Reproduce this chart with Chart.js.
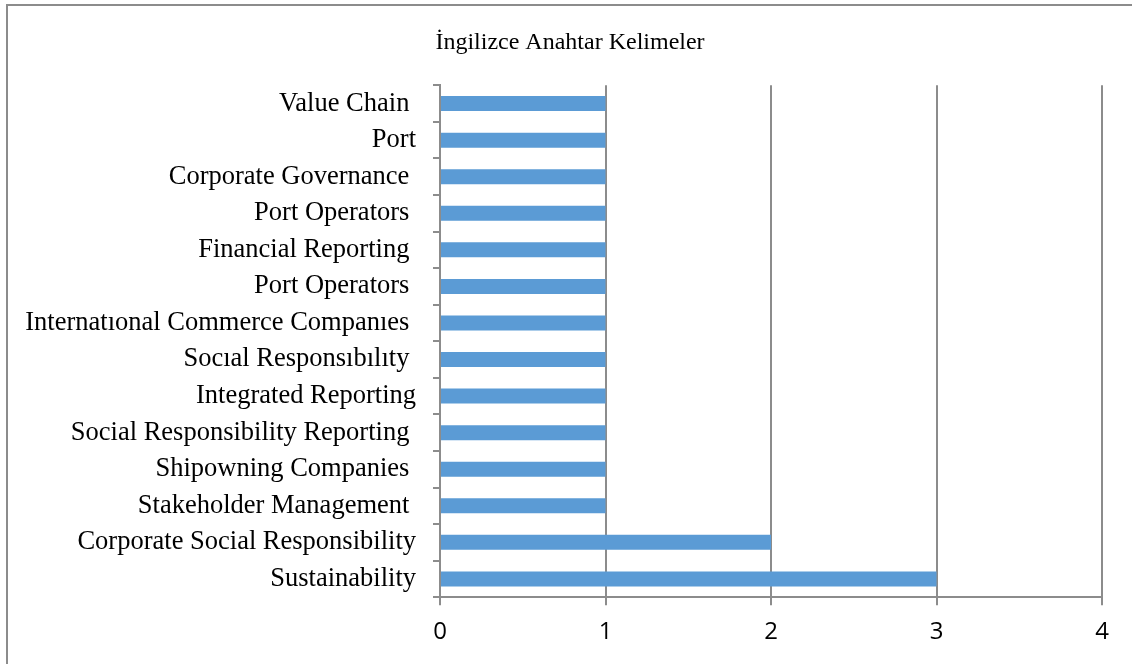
<!DOCTYPE html>
<html>
<head>
<meta charset="utf-8">
<script src="https://cdn.jsdelivr.net/npm/chart.js@4/dist/chart.umd.min.js"></script>
<style>
  html, body { margin: 0; padding: 0; background: #fff; overflow: hidden; }
  #frame {
    position: absolute; left: 6px; top: 4px; width: 1140px; height: 680px;
    border: 2px solid #8c8c8c;
  }
  #chartBox { position: absolute; left: 8px; top: 6px; width: 1124px; height: 658px; }
</style>
</head>
<body>
<div id="frame"></div>
<div id="chartBox"><canvas id="keywords"></canvas></div>
<script>
// Keywords, top to bottom (trailing spaces kept as in the source).
const keywords = [
  "Value Chain ",
  "Port",
  "Corporate Governance ",
  "Port Operators ",
  "Financial Reporting ",
  "Port Operators ",
  "Internatıonal Commerce Companıes ",
  "Socıal Responsıbılıty ",
  "Integrated Reporting",
  "Social Responsibility Reporting ",
  "Shipowning Companies ",
  "Stakeholder Management ",
  "Corporate Social Responsibility",
  "Sustainability"
];
const counts = [1, 1, 1, 1, 1, 1, 1, 1, 1, 1, 1, 1, 2, 3];
const xTicks = [0, 1, 2, 3, 4];
const chartTitle = "İngilizce Anahtar Kelimeler";

var gridGrey = "#8c8c8c";

var ctx = document.querySelector("#keywords").getContext("2d");
var chart = new Chart(ctx, {
  type: "bar",
  data: {
    labels: keywords,
    datasets: [{
      data: counts,
      backgroundColor: "#5b9bd5",
      borderWidth: 0,
      barPercentage: 0.41,
      categoryPercentage: 1
    }]
  },
  options: {
    indexAxis: "y",
    responsive: true,
    maintainAspectRatio: false,
    animation: false,
    layout: { padding: { left: 0, right: 0, top: 0, bottom: 4 } },
    plugins: {
      legend: { display: false },
      tooltip: { enabled: false },
      title: {
        display: true,
        text: chartTitle,
        color: "#000",
        font: { family: "Liberation Serif", size: 24, weight: "normal" },
        padding: { top: 22.5, bottom: 28 }
      }
    },
    scales: {
      x: {
        min: xTicks[0],
        max: xTicks[xTicks.length - 1],
        afterBuildTicks: function (scale) {
          scale.ticks = xTicks.map(function (v) { return { value: v }; });
        },
        grid: { color: gridGrey, lineWidth: 2, tickLength: 8 },
        border: { color: gridGrey, width: 2 },
        ticks: {
          color: "#000",
          padding: 13,
          font: { family: "Open Sans", size: 24 }
        }
      },
      y: {
        afterFit: function (scale) {
          scale.width = 432;
        },
        grid: { drawOnChartArea: false, color: gridGrey, lineWidth: 2, tickLength: 7 },
        border: { color: gridGrey, width: 2 },
        ticks: {
          color: "#000",
          padding: 17,
          autoSkip: false,
          font: { family: "Liberation Serif", size: 26.5 }
        }
      },
      // Empty right-hand axis, only to keep a blank margin right of the plot
      // while the title stays centred on the whole chart.
      yRight: {
        type: "category",
        position: "right",
        grid: { display: false },
        border: { display: false },
        ticks: { display: false },
        afterFit: function (scale) {
          scale.width = 30;
        }
      }
    }
  }
});
</script>
</body>
</html>
